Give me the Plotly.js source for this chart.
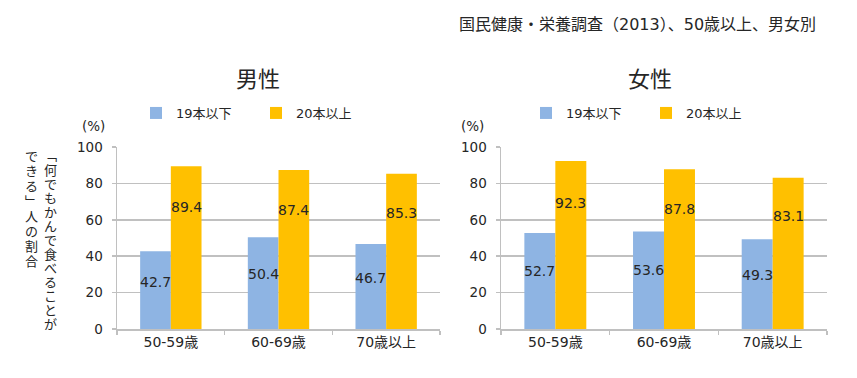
<!DOCTYPE html>
<html>
<head>
<meta charset="utf-8">
<script src="https://cdn.plot.ly/plotly-3.0.1.min.js"></script>
<style>html,body{margin:0;padding:0;background:#fff;}#chart{width:857px;height:378px;}</style>
</head>
<body>
<div id="chart"></div>
<script>
const categories = ['50-59歳', '60-69歳', '70歳以上'];
const seriesNames = ['19本以下', '20本以上'];
const male19 = [42.7, 50.4, 46.7];
const male20 = [89.4, 87.4, 85.3];
const female19 = [52.7, 53.6, 49.3];
const female20 = [92.3, 87.8, 83.1];
const yTicks = [0, 20, 40, 60, 80, 100];
const panelTitles = ['男性', '女性'];
const sourceText = '国民健康・栄養調査（2013）、50歳以上、男女別';
const yTitleCol1 = '﹁何でもかんで食べることが';
const yTitleCol2 = 'できる﹂人の割合';

const W = 857, H = 378;
const FONT = '"DejaVu Sans", "Noto Sans CJK JP", sans-serif';
const CJK = '"Noto Sans CJK JP", sans-serif';
const TXT = '#262626';
const GRID = '#c0c0c0';
const BLUE = '#8EB4E3';
const ORANGE = '#FFC000';
const BARGAP = 0.43;
const dom1 = [117 / W, 440 / W];
const dom2 = [501 / W, 827 / W];
const ydom = [1 - 329 / H, 1 - 147 / H];

function px(x) { return x / W; }
function py(y) { return 1 - y / H; }

const traces = [];
function addPanel(v19, v20, xa, ya, leg) {
  traces.push({type: 'bar', x: categories, y: v19, name: seriesNames[0], marker: {color: BLUE},
    xaxis: xa, yaxis: ya, legend: leg, hoverinfo: 'skip'});
  traces.push({type: 'bar', x: categories, y: v20, name: seriesNames[1], marker: {color: ORANGE},
    xaxis: xa, yaxis: ya, legend: leg, hoverinfo: 'skip'});
}
addPanel(male19, male20, 'x', 'y', 'legend');
addPanel(female19, female20, 'x2', 'y2', 'legend2');

function xAxis(dom) {
  return {domain: dom, showline: true, linecolor: GRID, linewidth: 1.5, ticks: 'outside',
    tickson: 'boundaries', ticklen: 4, tickcolor: GRID, tickwidth: 1.5, showgrid: false,
    tickfont: {family: FONT, size: 14, color: TXT}, fixedrange: true};
}
function yAxis(anchor) {
  return {domain: ydom, anchor: anchor, range: [0, 100], tickvals: yTicks, showline: true,
    linecolor: GRID, linewidth: 1.5, ticks: 'outside', ticklen: 4, tickcolor: GRID, tickwidth: 1.5,
    ticklabelstandoff: 6,
    showgrid: true, gridcolor: GRID, gridwidth: 1.5, zeroline: false,
    tickfont: {family: FONT, size: 13.5, color: TXT}, fixedrange: true};
}

const annotations = [];
function note(o) {
  return Object.assign({showarrow: false, xanchor: 'center', yanchor: 'middle'}, o);
}
// value labels
function addLabels(v19, v20, xa, ya, dom) {
  const plotW = (dom[1] - dom[0]) * W;
  const barW = plotW / categories.length * (1 - BARGAP) / 2;
  categories.forEach((c, i) => {
    annotations.push(note({x: c, y: v19[i] * 0.6, xref: xa, yref: ya, xshift: -barW / 2,
      text: v19[i].toFixed(1), font: {family: FONT, size: 14, color: TXT}}));
    annotations.push(note({x: c, y: v20[i] * 0.75, xref: xa, yref: ya, xshift: barW / 2,
      text: v20[i].toFixed(1), font: {family: FONT, size: 14, color: TXT}}));
  });
}
addLabels(male19, male20, 'x', 'y', dom1);
addLabels(female19, female20, 'x2', 'y2', dom2);

// panel titles
annotations.push(note({x: px(258), y: py(77), xref: 'paper', yref: 'paper', text: panelTitles[0],
  font: {family: CJK, size: 22, color: TXT}}));
annotations.push(note({x: px(650), y: py(77), xref: 'paper', yref: 'paper', text: panelTitles[1],
  font: {family: CJK, size: 22, color: TXT}}));
// source
annotations.push(note({x: px(818), y: py(24), xref: 'paper', yref: 'paper', xanchor: 'right', text: sourceText,
  font: {family: FONT, size: 16, color: TXT}}));
// (%) units
annotations.push(note({x: px(93), y: py(126), xref: 'paper', yref: 'paper', text: '(%)',
  font: {family: FONT, size: 13.5, color: TXT}}));
annotations.push(note({x: px(472), y: py(126), xref: 'paper', yref: 'paper', text: '(%)',
  font: {family: FONT, size: 13.5, color: TXT}}));
// vertical y-axis title, two columns (right column first)
function addVertical(str, xc, ytop, pitch) {
  Array.from(str).forEach((ch, i) => {
    annotations.push(note({x: px(xc), y: py(ytop + pitch * (i + 0.5)), xref: 'paper', yref: 'paper', text: ch,
      borderpad: 0, font: {family: CJK, size: 13, color: TXT}}));
  });
}
addVertical(yTitleCol1, 50, 148, 14);
addVertical(yTitleCol2, 32, 148, 15);

const legendBase = {orientation: 'h', yanchor: 'middle', y: py(113), xanchor: 'left', bgcolor: 'rgba(0,0,0,0)',
  font: {family: FONT, size: 13, color: TXT}, traceorder: 'normal', entrywidth: 75, entrywidthmode: 'pixels'};

const layout = {
  width: W, height: H, margin: {l: 0, r: 0, t: 0, b: 0},
  paper_bgcolor: '#fff', plot_bgcolor: '#fff',
  barmode: 'group', bargap: BARGAP, bargroupgap: 0,
  font: {family: FONT, color: TXT},
  xaxis: Object.assign(xAxis(dom1), {anchor: 'y'}),
  yaxis: yAxis('x'),
  xaxis2: Object.assign(xAxis(dom2), {anchor: 'y2'}),
  yaxis2: yAxis('x2'),
  legend: Object.assign({}, legendBase, {x: px(136)}),
  legend2: Object.assign({}, legendBase, {x: px(526)}),
  annotations: annotations,
  showlegend: true
};

Plotly.newPlot('chart', traces, layout, {displayModeBar: false, staticPlot: true});
</script>
</body>
</html>
